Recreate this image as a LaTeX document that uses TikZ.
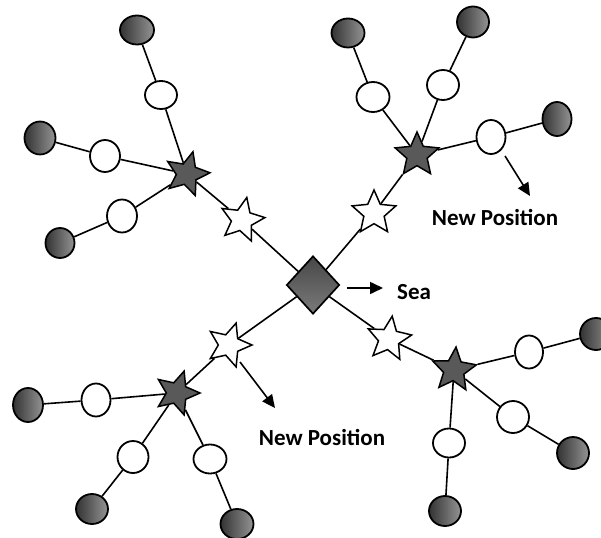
\documentclass[tikz,border=0pt]{standalone}
\usepackage{fontspec}
\setmainfont{Carlito}
\usetikzlibrary{shapes.geometric,arrows.meta}

\tikzset{
  link/.style={line width=1.6pt},
  hub/.style={diamond, draw, line width=1.7pt, inner sep=0pt,
    minimum width=53pt, minimum height=58pt, top color=black!72, bottom color=black!52},
  head/.style={star, star points=5, star point ratio=2.15, draw, line width=1.5pt,
    inner sep=0pt, minimum size=46pt, fill=black!65},
  relay/.style={star, star points=5, star point ratio=2.15, draw, line width=1.5pt,
    inner sep=0pt, minimum size=46pt, fill=white},
  member/.style={ellipse, draw, line width=1.8pt, inner sep=0pt,
    minimum width=32pt, minimum height=31pt, fill=white},
  leaf/.style={ellipse, draw, line width=1.8pt, inner sep=0pt,
    minimum width=32pt, minimum height=31pt, left color=black!80, right color=black!42},
  move/.style={line width=1.6pt, -{Triangle[length=13pt,width=12pt]}},
  caption/.style={font=\bfseries\fontsize{23}{27}\selectfont, inner sep=0pt}
}

\begin{document}
\begin{tikzpicture}[x=1pt, y=-1pt]
  \useasboundingbox (0,0) rectangle (601,537);

  % sink at the centre
  \node[hub] (sea) at (313,285) {};

  % north-west cluster
  \node[relay, rotate=-12] (nwR) at (242,220) {};
  \node[head, rotate=-15] (nwH) at (187,174) {};
  \node[member, minimum width=32pt, minimum height=28pt] (nwM1) at (161,95) {};
  \node[member, minimum width=30pt, minimum height=32pt] (nwM2) at (105,156) {};
  \node[member, minimum width=30pt, minimum height=33pt] (nwM3) at (122,216) {};
  \node[leaf, minimum width=34pt, minimum height=29pt] (nwL1) at (137,30) {};
  \node[leaf, minimum width=31pt, minimum height=33pt] (nwL2) at (40,138) {};
  \node[leaf, minimum width=29pt, minimum height=30pt] (nwL3) at (60,243) {};

  % north-east cluster
  \node[relay] (neR) at (374,213) {};
  \node[head] (neH) at (417,155) {};
  \node[member, minimum width=33pt, minimum height=30pt] (neM1) at (373,97) {};
  \node[member, minimum width=32pt, minimum height=30pt] (neM2) at (443,85) {};
  \node[member, minimum width=29pt, minimum height=34pt] (neM3) at (491,137) {};
  \node[leaf, minimum width=33pt, minimum height=29pt] (neL1) at (348,33) {};
  \node[leaf, minimum width=32pt, minimum height=31pt] (neL2) at (473,22) {};
  \node[leaf, minimum width=29pt, minimum height=34pt] (neL3) at (557,119) {};
  \coordinate (neA) at (505,156);
  \coordinate (neB) at (530,196);

  % south-west cluster
  \node[relay, rotate=-18] (swR) at (229,345) {};
  \node[head, rotate=-18] (swH) at (177,393) {};
  \node[member, minimum width=29pt, minimum height=33pt] (swM1) at (96,400) {};
  \node[member, minimum width=31pt, minimum height=32pt] (swM2) at (133,457) {};
  \node[member, minimum width=33pt, minimum height=29pt] (swM3) at (210,459) {};
  \node[leaf, minimum width=30pt, minimum height=34pt] (swL1) at (28,405) {};
  \node[leaf, minimum width=32pt, minimum height=30pt] (swL2) at (92,509) {};
  \node[leaf, minimum width=33pt, minimum height=30pt] (swL3) at (237,524) {};
  \coordinate (swA) at (240,362);
  \coordinate (swB) at (275,408);

  % south-east cluster
  \node[relay, rotate=-8] (seR) at (389,339) {};
  \node[head, rotate=-5] (seH) at (454,370) {};
  \node[member, minimum width=28pt, minimum height=33pt] (seM1) at (529,352) {};
  \node[member, minimum width=32pt, minimum height=32pt] (seM2) at (513,417) {};
  \node[member, minimum width=32pt, minimum height=29pt] (seM3) at (449,443) {};
  \node[leaf, minimum width=32pt, minimum height=32pt] (seL1) at (596,334) {};
  \node[leaf, minimum width=32pt, minimum height=32pt] (seL2) at (573,453) {};
  \node[leaf, minimum width=32pt, minimum height=30pt] (seL3) at (445,511) {};

  % sink label
  \coordinate (seaA) at (347,288);
  \coordinate (seaB) at (383,288);
  \node[caption, anchor=west] (sealbl) at (397,292) {Sea};

  \node[caption] (neLbl) at (495,217) {New Position};
  \node[caption] (swLbl) at (322,437) {New Position};

  % links
  \foreach \c in {nw,ne,sw,se}{
    \draw[link] (sea) -- (\c R);
    \draw[link] (\c R) -- (\c H);
    \foreach \i in {1,2,3}{
      \draw[link] (\c H) -- (\c M\i);
      \draw[link] (\c M\i) -- (\c L\i);
    }
  }

  % movement arrows
  \draw[move] (neA) -- (neB);
  \draw[move] (swA) -- (swB);
  \draw[move] (seaA) -- (seaB);
\end{tikzpicture}
\end{document}
